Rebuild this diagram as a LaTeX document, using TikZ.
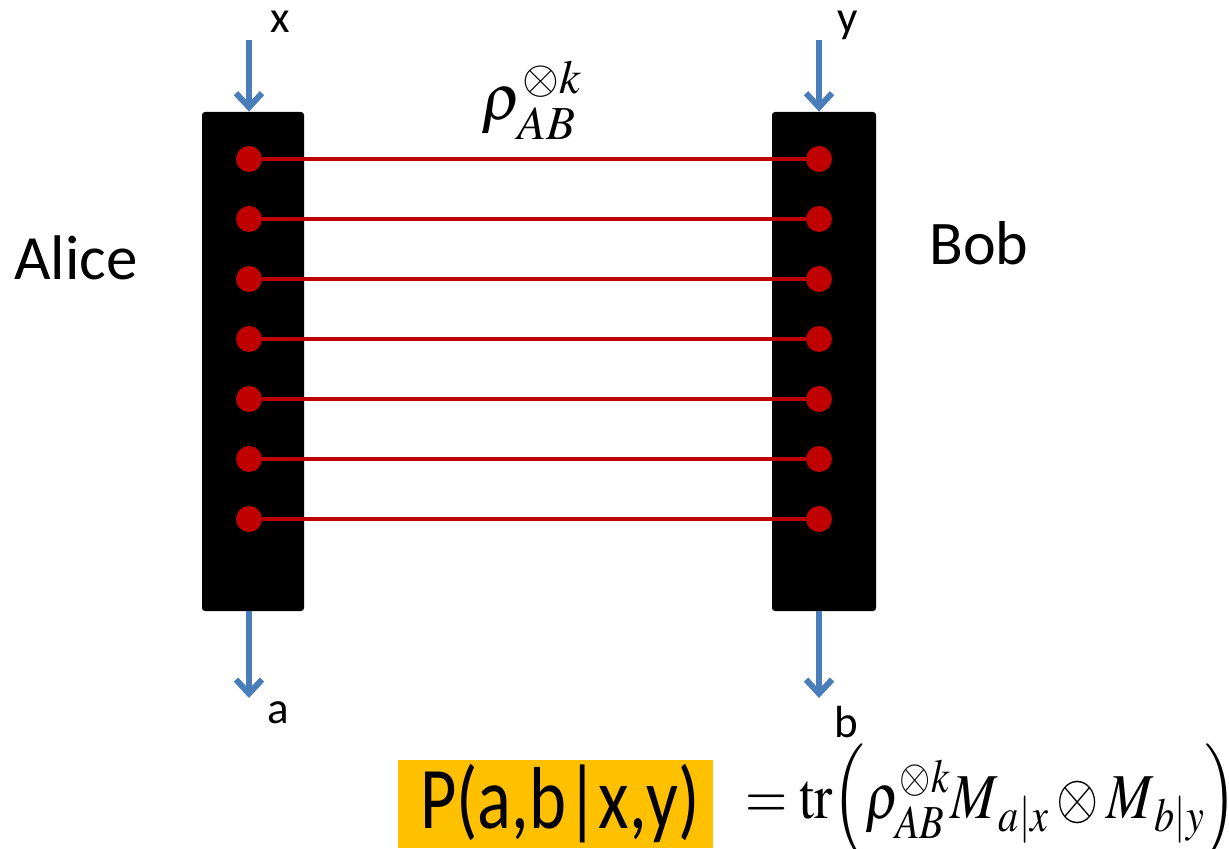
\documentclass[tikz,border=0pt]{standalone}
\usepackage{mathptmx}
\usepackage[no-math]{fontspec}
\setmainfont{Carlito}
\usepackage{xcolor}
\usepackage{tikz}
\usetikzlibrary{arrows.meta, positioning}
\definecolor{pairred}{RGB}{192,0,0}
\definecolor{ioblue}{RGB}{74,126,187}
\definecolor{probgold}{RGB}{255,192,0}

\begin{document}
\begin{tikzpicture}[x=0.5pt,y=-0.5pt]
\useasboundingbox (0,0) rectangle (1229,849);

% the two parties
\node[
    fill=black,
    rounded corners=1.5pt,
    minimum width=51pt,
    minimum height=249.5pt,
    inner sep=0pt
] (alicebox) at (253,361.5) {};
\node[
    fill=black,
    rounded corners=1.5pt,
    minimum width=52pt,
    minimum height=249.5pt,
    inner sep=0pt
] (bobbox) at (824,361.5) {};

\node[font=\fontsize{31.5}{36}\selectfont] (alice) at (76,258) {Alice};
\node[font=\fontsize{31}{36}\selectfont] (bob) at (979,243) {Bob};

% shared copies of the state
\foreach \i in {1,...,7}{
    \node[circle, fill=pairred, minimum size=13pt, inner sep=0pt] (a\i) at (249,99+60*\i) {};
    \node[circle, fill=pairred, minimum size=13pt, inner sep=0pt] (b\i) at (819,99+60*\i) {};
    \draw[pairred, line width=2.2pt] (a\i) -- (b\i);
}

\node[font=\fontsize{32}{36}\selectfont] (rho) at (532,100) {$\rho_{AB}^{\otimes k}$};

% inputs and outputs
\coordinate (xin) at (249,40);
\coordinate (yin) at (819,40);
\coordinate (aout) at (249,698);
\coordinate (bout) at (819,698);
\draw[ioblue, line width=3pt, -{Straight Barb[length=7pt,width=13pt]}] (xin) -- (xin |- alicebox.north);
\draw[ioblue, line width=3pt, -{Straight Barb[length=7pt,width=13pt]}] (yin) -- (yin |- bobbox.north);
\draw[ioblue, line width=3pt, -{Straight Barb[length=7pt,width=13pt]}] (aout |- alicebox.south) -- (aout);
\draw[ioblue, line width=3pt, -{Straight Barb[length=7pt,width=13pt]}] (bout |- bobbox.south) -- (bout);

\node[anchor=base, font=\fontsize{22.5}{26}\selectfont] (xlab) at (280,33) {x};
\node[anchor=base, font=\fontsize{22.5}{26}\selectfont] (ylab) at (848,33) {y};
\node[anchor=base, font=\fontsize{22.5}{26}\selectfont] (alab) at (278,723) {a};
\node[anchor=base, font=\fontsize{22.5}{26}\selectfont] (blab) at (846,737) {b};

% joint probability
\node[
    fill=probgold,
    minimum width=157.5pt,
    minimum height=44pt,
    inner sep=0pt
] (pbox) at (555.5,804) {};
\node[font=\fontsize{44}{50}\selectfont, xscale=0.8] (ptext) at (560,804) {P(a,b|x,y)};
\node[font=\fontsize{32}{36}\selectfont, anchor=west, inner sep=0pt, xscale=0.85] (trace) at (745,802)
    {$=\mathrm{tr}\Bigl(\rho_{AB}^{\otimes k} M_{\,a|x}\otimes M_{\,b|y}\Bigr)$};
\end{tikzpicture}
\end{document}
